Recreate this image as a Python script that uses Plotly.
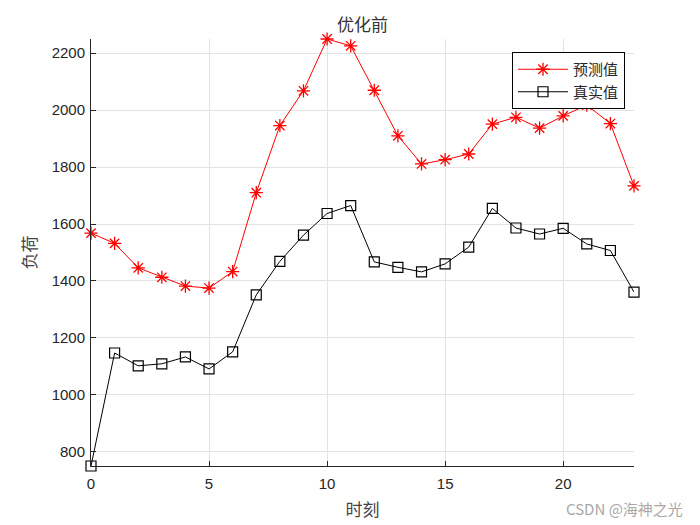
import plotly.graph_objects as go

hours = list(range(24))
predicted = [1568, 1532, 1446, 1413, 1382, 1375, 1433, 1710, 1946, 2068, 2250, 2226,
             2070, 1910, 1811, 1826, 1846, 1951, 1975, 1937, 1980, 2018, 1953, 1734]
actual = [750, 1147, 1102, 1109, 1133, 1091, 1151, 1351, 1469, 1561, 1637, 1665,
          1467, 1448, 1432, 1460, 1519, 1655, 1586, 1565, 1585, 1530, 1507, 1361]
x_ticks = [0, 5, 10, 15, 20]
y_ticks = [800, 1000, 1200, 1400, 1600, 1800, 2000, 2200]

title_text = "优化前"
x_label = "时刻"
y_label = "负荷"
names = ["预测值", "真实值"]
watermark = "CSDN @海神之光"

cjk = "Noto Sans CJK SC"
num_font = "Liberation Sans, Arial, sans-serif"

fig = go.Figure()
fig.add_trace(go.Scatter(
    x=hours, y=predicted, name=names[0], mode="lines+markers", cliponaxis=False,
    line=dict(color="#ff0000", width=1),
    marker=dict(symbol="asterisk-open", size=11, color="#ff0000",
                line=dict(color="#ff0000", width=1.3)),
))
fig.add_trace(go.Scatter(
    x=hours, y=actual, name=names[1], mode="lines+markers", cliponaxis=False,
    line=dict(color="#000000", width=1),
    marker=dict(symbol="square-open", size=10, color="#000000",
                line=dict(color="#000000", width=1.2)),
))

axis_common = dict(
    showgrid=True, gridcolor="#e3e3e3", gridwidth=1,
    showline=True, linecolor="#262626", linewidth=1,
    ticks="inside", ticklen=5, tickcolor="#262626",
    tickfont=dict(family=num_font, size=15, color="#262626"),
    zeroline=False, mirror=False, automargin=False,
)

fig.update_layout(
    width=700, height=525,
    margin=dict(l=91, r=66, t=39, b=59),
    paper_bgcolor="white", plot_bgcolor="white",
    title=dict(text=title_text, x=362.5 / 700, xanchor="center",
               y=1 - 25 / 525, yanchor="middle",
               font=dict(family=cjk, size=17, color="#333333")),
    xaxis=dict(range=[0, 23], tickvals=x_ticks, ticklabelstandoff=4,
               title=dict(text=x_label, font=dict(family=cjk, size=17, color="#444444"),
                          standoff=13),
               **axis_common),
    yaxis=dict(range=[750, 2250], tickvals=y_ticks, ticklabelstandoff=2,
               title=dict(text=y_label, font=dict(family=cjk, size=17, color="#444444"),
                          standoff=10),
               **axis_common),
    legend=dict(x=(512 - 91) / 543, y=(466 - 52) / 427, xanchor="left", yanchor="top",
                bgcolor="white", bordercolor="#000000", borderwidth=1,
                itemwidth=50,
                font=dict(family=cjk, size=15, color="#262626"),
                tracegroupgap=0),
    showlegend=True,
    annotations=[dict(text=watermark, xref="paper", yref="paper",
                      x=(685 - 91) / 543, y=-(508 - 466) / 427,
                      xanchor="right", yanchor="middle", showarrow=False,
                      font=dict(family=cjk, size=15, color="#a8a8a8"))],
)

fig.write_html("out.html")
